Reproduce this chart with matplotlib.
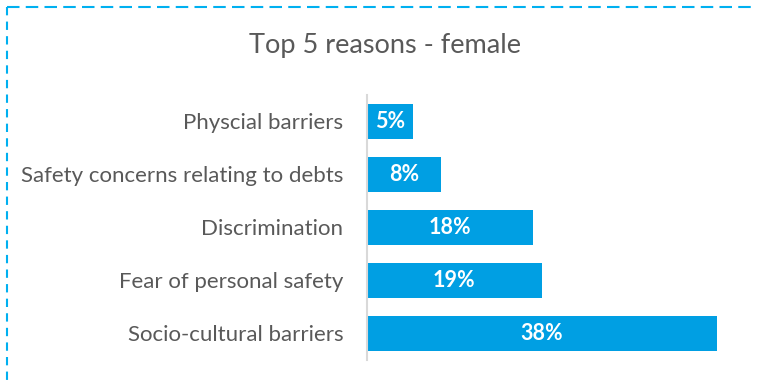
import matplotlib.pyplot as plt
from matplotlib.lines import Line2D

reasons = ["Socio-cultural barriers", "Fear of personal safety", "Discrimination",
           "Safety concerns relating to debts", "Physcial barriers"]
shares = [38, 19, 18, 8, 5]
title = "Top 5 reasons - female"

plt.rcParams['font.family'] = ['Lato', 'DejaVu Sans']

fig = plt.figure(figsize=(7.57, 3.86), dpi=100)
ax = fig.add_axes([0.4848, 0.0674, 0.4861, 0.6865])

bars = ax.barh(range(len(reasons)), shares, height=0.66, color='#009FE3')
for bar, v in zip(bars, shares):
    ax.text(bar.get_width() / 2, bar.get_y() + bar.get_height() / 2, f"{v}%",
            ha='center', va='center', color='white', fontsize=15.5, fontweight='bold')

ax.set_xlim(0, 40)
ax.set_ylim(-0.5, len(reasons) - 0.5)
ax.set_yticks(range(len(reasons)))
ax.set_yticklabels(reasons, fontsize=16, color='#595959')
ax.tick_params(axis='y', length=0, pad=17)
ax.set_xticks([])
for s in ['top', 'right', 'bottom']:
    ax.spines[s].set_visible(False)
ax.spines['left'].set_color('#D9D9D9')
ax.spines['left'].set_linewidth(1.5)

fig.text(0.509, 0.883, title, ha='center', va='center', fontsize=19.5, color='#595959')

# dashed frame
x0, y0 = 6.5 / 757, 1 - 6.5 / 386
fig.add_artist(Line2D([x0, 1.02], [y0, y0], transform=fig.transFigure,
                      color='#00B0F0', lw=1.5, linestyle=(0, (6, 3))))
fig.add_artist(Line2D([x0, x0], [y0, -0.02], transform=fig.transFigure,
                      color='#00B0F0', lw=1.5, linestyle=(0, (4, 3))))

fig.savefig('out.png', dpi=100)
